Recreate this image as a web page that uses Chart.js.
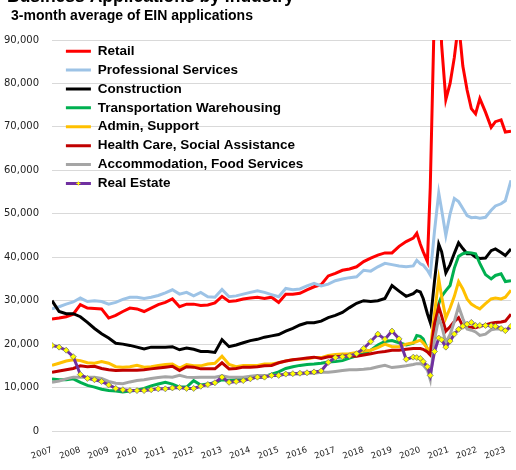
<!DOCTYPE html>
<html>
<head>
<meta charset="utf-8">
<title>Business Applications by Industry</title>
<script src="https://cdn.jsdelivr.net/npm/chart.js@4.4.0/dist/chart.umd.min.js"></script>
<style>
  html, body { margin: 0; padding: 0; background: #fff; overflow: hidden; }
  #wrap { position: relative; width: 516px; height: 470px; overflow: hidden; }
  #chart { position: absolute; left: 0; top: -14px; }
</style>
</head>
<body>
<div id="wrap"><canvas id="chart" width="516" height="484"></canvas></div>
<script>
// x positions in decimal years (quarterly, finer after 2019.75)
const xs = [
  2007, 2007.25, 2007.5, 2007.75, 2008, 2008.25, 2008.5, 2008.75,
  2009, 2009.25, 2009.5, 2009.75, 2010, 2010.25, 2010.5, 2010.75,
  2011, 2011.25, 2011.5, 2011.75, 2012, 2012.25, 2012.5, 2012.75,
  2013, 2013.25, 2013.5, 2013.75, 2014, 2014.25, 2014.5, 2014.75,
  2015, 2015.25, 2015.5, 2015.75, 2016, 2016.25, 2016.5, 2016.75,
  2017, 2017.25, 2017.5, 2017.75, 2018, 2018.25, 2018.5, 2018.75,
  2019, 2019.25, 2019.5, 2019.75, 2019.875, 2020, 2020.1, 2020.25,
  2020.35, 2020.5, 2020.65, 2020.75, 2020.9, 2021.05, 2021.2, 2021.35,
  2021.5, 2021.65, 2021.8, 2021.95, 2022.1, 2022.3, 2022.5, 2022.65,
  2022.85, 2023, 2023.2
];

const yearTicks = [2007, 2008, 2009, 2010, 2011, 2012, 2013, 2014, 2015,
  2016, 2017, 2018, 2019, 2020, 2021, 2022, 2023];

const retail = [
  25800, 26000, 26300, 26900, 29100, 28300, 28200, 28100, 26000, 26600, 27500, 28300,
  28100, 27500, 28300, 29100, 29600, 30400, 28600, 29200, 29200, 28900, 29000, 29500,
  31000, 29800, 30000, 30400, 30600, 30800, 30500, 30800, 29600, 31500, 31500, 31700,
  32500, 33200, 33700, 35700, 36300, 37000, 37300, 37800, 39000, 39800, 40500, 41000,
  41000, 42500, 43600, 44400,
  45500, 43000, 41300, 39000, 56000, 98000, 110000, 89000, 76300, 80000, 86000, 94000,
  84000, 78500, 74200, 73000, 76500, 73400, 69900, 71200, 71600, 68800, 69000
];
const professional = [
  28100, 28600, 29200, 29700, 30600, 29800, 30000, 29800, 29200, 29600, 30300, 30800,
  30800, 30500, 30800, 31200, 31800, 32500, 31500, 31900, 31100, 31900, 30900, 30800,
  32600, 30900, 31100, 31500, 31900, 32300, 31900, 31400, 30900, 32800, 32500, 32700,
  33400, 34000, 33400, 33800, 34600, 35000, 35300, 35500, 37000, 36800, 37800, 38600,
  38300, 38000, 37800, 38000,
  39300, 38500, 38200, 37000, 35900, 46000, 54800, 51000, 45000, 50000, 53500, 52800,
  51200, 49600, 49100, 49200, 49000, 49200, 50800, 51800, 52300, 53000, 57700
];
const construction = [
  30000, 27500, 27000, 27000, 26300, 25000, 23600, 22400, 21400, 20200, 20000, 19700,
  19300, 18900, 19300, 19300, 19300, 19400, 18700, 19100, 18800, 18300, 18300, 18100,
  21000, 19400, 19800, 20300, 20800, 21100, 21600, 21900, 22200, 23000, 23600, 24400,
  24900, 24900, 25300, 26100, 26600, 27300, 28400, 29400, 30000, 29800, 30000, 30500,
  33500, 32200, 31000, 31600,
  32300, 32000, 30500, 27000, 25000, 34500, 43000, 41300, 36400, 38300, 40900, 43300,
  42000, 40800, 40800, 40000, 39700, 39800, 41500, 41900, 41100, 40400, 41900
];
const transportation = [
  12000, 11800, 11800, 12000, 11200, 10500, 10100, 9600, 9300, 9200, 9000, 9200,
  9400, 9800, 10400, 10800, 11200, 10800, 10100, 10100, 11600, 10600, 10800, 11100,
  11800, 11600, 11800, 12000, 12200, 12400, 12500, 13100, 13600, 14400, 14800, 15100,
  15300, 15400, 15600, 15900, 16000, 16200, 16800, 17300, 17800, 18600, 19800, 20600,
  20800, 20300, 19800, 20200,
  22000, 21800, 21200, 18800, 18200, 24000, 29300, 31000, 32300, 33500, 37500, 40200,
  40800, 41100, 41000, 40800, 38600, 36000, 35000, 35800, 36200, 34400, 34600
];
const adminSupport = [
  15100, 15600, 16100, 16400, 16200, 15700, 15600, 16000, 15600, 14800, 14700, 14800,
  15100, 14700, 14800, 15100, 15300, 15400, 14500, 15300, 15000, 15000, 15400, 15600,
  17200, 15300, 14800, 15100, 15100, 15100, 15400, 15400, 15700, 16100, 16400, 16500,
  16600, 16900, 16900, 17400, 17600, 17700, 17800, 18100, 18400, 18600, 19200, 20000,
  19400, 19400, 20000, 20300,
  20600, 20900, 20300, 19000, 18500, 27000, 35000, 31000, 26000, 28300, 31000, 34400,
  32700, 30400, 29200, 28600, 28100, 29300, 30400, 30600, 30400, 30800, 32400
];
const healthCare = [
  13500, 13800, 14100, 14400, 15000, 14800, 14900, 14400, 14100, 13900, 14000, 14000,
  14000, 14100, 14300, 14500, 14700, 14900, 13900, 14800, 14700, 14300, 14300, 14300,
  15700, 14300, 14400, 14700, 14700, 14800, 15000, 15100, 15700, 16100, 16400, 16600,
  16800, 17000, 16700, 17100, 17100, 17200, 17300, 17200, 17500, 17800, 18100, 18300,
  18600, 18600, 18800, 19000,
  19000, 19000, 18800, 18200, 17500, 24700, 28600, 26500, 23000, 24000, 25200, 26100,
  24100, 23900, 23900, 23800, 24100, 24400, 24800, 25000, 25100, 25300, 26900
];
const accommodation = [
  11200, 11500, 12000, 12400, 12400, 12400, 12400, 12100, 11400, 11000, 10900, 11300,
  11600, 11800, 12100, 12300, 12500, 12400, 12800, 12400, 12300, 12400, 12400, 12400,
  12700, 12400, 12400, 12400, 12600, 12800, 12800, 12800, 12900, 13100, 13100, 13100,
  13300, 13300, 13500, 13500, 13700, 13900, 14100, 14100, 14200, 14400, 14800, 15100,
  14600, 14800, 15000, 15300,
  15500, 15500, 15200, 14000, 11800, 21000, 26000, 24300, 20300, 22200, 25200, 28700,
  25900, 23500, 23200, 22800, 22000, 22300, 23300, 23500, 23500, 23100, 24000
];
const realEstate = [
  19700, 19300, 18600, 17100, 13000, 12100, 11800, 11400, 10600, 9800, 9500, 9300,
  9300, 9300, 9500, 9700, 9700, 9900, 10000, 9800, 9800, 10300, 10700, 11100,
  12400, 11200, 11400, 11600, 12000, 12400, 12400, 12800, 12800, 13100, 13200, 13300,
  13400, 13600, 13800, 15800, 16900, 17100, 17300, 17800, 19000, 20600, 22300, 21100,
  23000, 21200, 16500, 17000,
  16900, 16700, 16000, 14800, 12800, 18300, 21400, 21000, 19300, 20700, 22300, 23400,
  24100, 24600, 25000, 24300, 24300, 24300, 24200, 24100, 23600, 23100, 24100
];

const seriesNames = ['Retail', 'Professional Services', 'Construction',
  'Transportation Warehousing', 'Admin, Support', 'Health Care, Social Assistance',
  'Accommodation, Food Services', 'Real Estate'];
const seriesData = [retail, professional, construction, transportation,
  adminSupport, healthCare, accommodation, realEstate];
const seriesColors = ['#FF0000', '#9DC3E6', '#000000', '#00B050',
  '#FFC000', '#C00000', '#A5A5A5', '#7030A0'];

const titleText = 'Business Applications by Industry';
const subtitleText = '3-month average of EIN applications';

const datasets = seriesNames.map((name, i) => ({
  label: name,
  data: seriesData[i],
  borderColor: seriesColors[i],
  backgroundColor: seriesColors[i],
  borderWidth: 3,
  tension: 0,
  pointRadius: 0,
  order: seriesNames.length - 1 - i // later series on top, like excel
}));
// real estate has small yellow markers
Object.assign(datasets[7], {
  pointRadius: 3,
  pointStyle: 'rectRot',
  pointBackgroundColor: '#FFFF00',
  pointBorderColor: '#6b6b6b',
  pointBorderWidth: 0.7
});

// legend inside the plot (upper left), titles nudged right
const layoutTweaks = {
  id: 'layoutTweaks',
  afterLayout(chart) {
    const lg = chart.legend;
    if (lg) {
      const w = lg.width, h = lg.height;
      lg.left = chart.chartArea.left + 8.5;
      lg.right = lg.left + w;
      lg.top = chart.chartArea.top - 1;
      lg.bottom = lg.top + h;
    }
    chart.boxes.forEach(b => {
      if (!b.options || typeof b.options.text !== 'string') return;
      if (b.options.text === titleText) { b.left += 5; b.right += 5; }
      if (b.options.text === subtitleText) { b.left += 9; b.right += 9; }
    });
  }
};

// yellow marker on the real estate legend sample
const legendMarker = {
  id: 'legendMarker',
  afterDraw(chart) {
    const boxes = chart.legend && chart.legend.legendHitBoxes;
    if (!boxes || !boxes[7]) return;
    const b = boxes[7];
    const cx = b.left + 12.5, cy = b.top + b.height / 2;
    const ctx = chart.ctx;
    ctx.save();
    ctx.strokeStyle = '#FFFF00';
    ctx.lineWidth = 1.2;
    ctx.beginPath();
    ctx.moveTo(cx - 2, cy); ctx.lineTo(cx + 2, cy);
    ctx.moveTo(cx, cy - 2); ctx.lineTo(cx, cy + 2);
    ctx.stroke();
    ctx.restore();
  }
};

new Chart(document.getElementById('chart'), {
  type: 'line',
  data: { labels: xs, datasets },
  plugins: [layoutTweaks, legendMarker],
  options: {
    responsive: false,
    animation: false,
    events: [],
    layout: { padding: { left: 2, right: 5, top: 0, bottom: 0 } },
    plugins: {
      title: {
        display: true,
        text: titleText,
        align: 'start',
        color: '#000',
        font: { family: 'Liberation Sans', size: 17.5, weight: 'bold' },
        padding: { top: 1, bottom: 0 }
      },
      subtitle: {
        display: true,
        text: subtitleText,
        align: 'start',
        color: '#000',
        font: { family: 'Liberation Sans', size: 14, weight: 'bold' },
        padding: { top: 0, bottom: 15.2 }
      },
      legend: {
        position: 'chartArea',
        align: 'start',
        labels: {
          boxWidth: 25,
          boxHeight: 3,
          padding: 5.4,
          color: '#000',
          font: { family: 'Liberation Sans', size: 13.5, weight: 'bold' },
          generateLabels: chart => chart.data.datasets.map((ds, i) => ({
            text: ds.label,
            fillStyle: ds.borderColor,
            strokeStyle: ds.borderColor,
            lineWidth: 0,
            hidden: false,
            datasetIndex: i
          }))
        }
      },
      tooltip: { enabled: false }
    },
    scales: {
      x: {
        type: 'linear',
        min: 2007,
        max: 2023.2,
        afterBuildTicks: scale => { scale.ticks = yearTicks.map(v => ({ value: v })); },
        afterFit: scale => { scale.height = 39; },
        grid: { display: false },
        border: { display: false },
        ticks: {
          autoSkip: false,
          minRotation: 18,
          maxRotation: 18,
          padding: 6,
          color: '#222',
          font: { family: 'DejaVu Sans', size: 8.5 },
          callback: v => String(v)
        }
      },
      y: {
        min: 0,
        max: 90000,
        afterFit: scale => { scale.width = 50; },
        grid: { color: '#d9d9d9', lineWidth: 1, drawTicks: false },
        border: { display: false },
        ticks: {
          stepSize: 10000,
          padding: 13,
          color: '#222',
          font: { family: 'DejaVu Sans', size: 10 },
          callback: v => v.toLocaleString('en-US')
        }
      }
    }
  }
});
</script>
</body>
</html>
